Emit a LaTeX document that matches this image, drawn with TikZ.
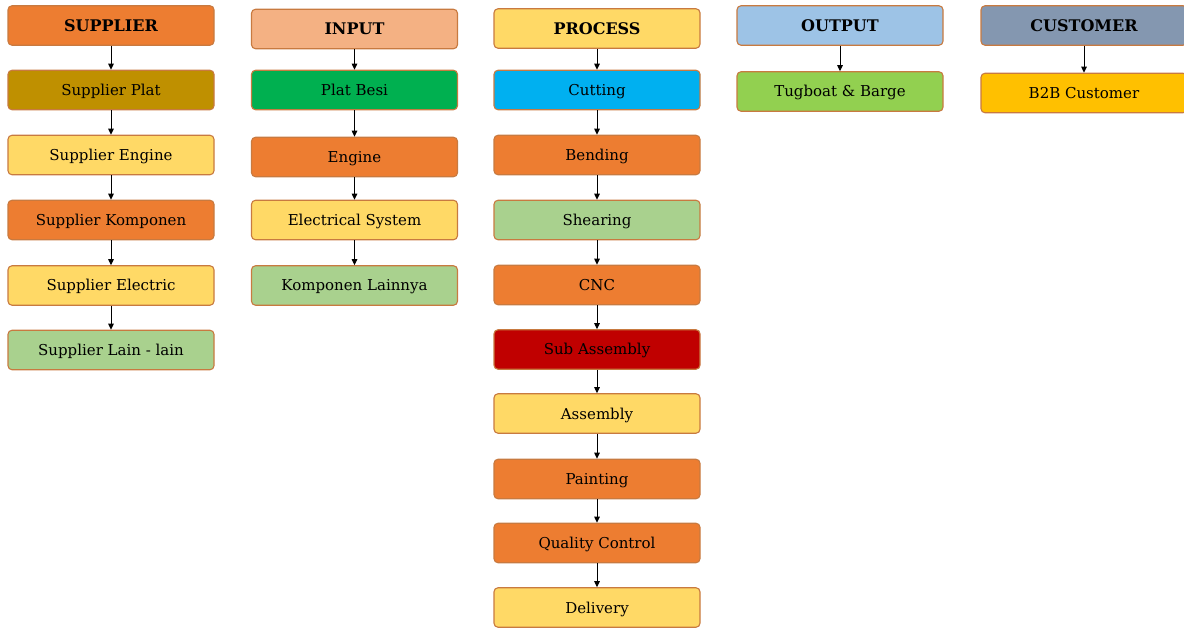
\documentclass[tikz,border=0pt]{standalone}
\usepackage{fontspec}
\setmainfont{DejaVu Serif}
\usetikzlibrary{arrows.meta}
\definecolor{cOrange}{HTML}{ED7D31}
\definecolor{cGoldD}{HTML}{BF9000}
\definecolor{cGoldL}{HTML}{FFD966}
\definecolor{cGreenL}{HTML}{A9D18E}
\definecolor{cOrangeL}{HTML}{F4B183}
\definecolor{cGreen}{HTML}{00B050}
\definecolor{cCyan}{HTML}{00B0F0}
\definecolor{cRed}{HTML}{C00000}
\definecolor{cBlueL}{HTML}{9DC3E6}
\definecolor{cLime}{HTML}{92D050}
\definecolor{cSlate}{HTML}{8497B0}
\definecolor{cAmber}{HTML}{FFC000}
\definecolor{cBorder}{RGB}{200,122,64}
\tikzset{
  box/.style={draw=cBorder, line width=1.1pt, rounded corners=4pt,
    minimum width=206pt, minimum height=39.5pt, inner sep=0pt,
    text height=11pt, text depth=0pt,
    font=\fontsize{15}{17}\selectfont, text=black},
  head/.style={box, text height=11.5pt, font=\fontsize{16}{18}\selectfont\bfseries},
  arr/.style={-{Triangle[length=6pt,width=5.5pt]}, line width=1pt, black}
}
\begin{document}
\begin{tikzpicture}[x=1pt,y=-1pt]
\useasboundingbox (0,0) rectangle (1184,628);
% SUPPLIER column
\node[head, fill=cOrange] (s0) at (111,25.5) {SUPPLIER};
\node[box, fill=cGoldD] (s1) at (111,90) {Supplier Plat};
\node[box, fill=cGoldL] (s2) at (111,155) {Supplier Engine};
\node[box, fill=cOrange] (s3) at (111,220) {Supplier Komponen};
\node[box, fill=cGoldL] (s4) at (111,285.5) {Supplier Electric};
\node[box, fill=cGreenL] (s5) at (111,350) {Supplier Lain - lain};
% INPUT column
\node[head, fill=cOrangeL] (i0) at (354.5,29) {INPUT};
\node[box, fill=cGreen] (i1) at (354.5,90) {Plat Besi};
\node[box, fill=cOrange] (i2) at (354.5,157) {Engine};
\node[box, fill=cGoldL] (i3) at (354.5,220) {Electrical System};
\node[box, fill=cGreenL] (i4) at (354.5,285.5) {Komponen Lainnya};
% PROCESS column
\node[head, fill=cGoldL] (p0) at (597,28.5) {PROCESS};
\node[box, fill=cCyan] (p1) at (597,90) {Cutting};
\node[box, fill=cOrange] (p2) at (597,155) {Bending};
\node[box, fill=cGreenL] (p3) at (597,220) {Shearing};
\node[box, fill=cOrange] (p4) at (597,285) {CNC};
\node[box, fill=cRed] (p5) at (597,349.5) {Sub Assembly};
\node[box, fill=cGoldL] (p6) at (597,413.5) {Assembly};
\node[box, fill=cOrange] (p7) at (597,479) {Painting};
\node[box, fill=cOrange] (p8) at (597,543) {Quality Control};
\node[box, fill=cGoldL] (p9) at (597,607.5) {Delivery};
% OUTPUT column
\node[head, fill=cBlueL] (o0) at (840,25.5) {OUTPUT};
\node[box, fill=cLime] (o1) at (840,91.5) {Tugboat \& Barge};
% CUSTOMER column
\node[head, fill=cSlate] (c0) at (1084,25.5) {CUSTOMER};
\node[box, fill=cAmber] (c1) at (1084,93) {B2B Customer};
% arrows
\foreach \a/\b in {s0/s1,s1/s2,s2/s3,s3/s4,s4/s5,
                   i0/i1,i1/i2,i2/i3,i3/i4,
                   p0/p1,p1/p2,p2/p3,p3/p4,p4/p5,p5/p6,p6/p7,p7/p8,p8/p9,
                   o0/o1,c0/c1}
  \draw[arr] (\a.south) -- (\b.north);
\end{tikzpicture}
\end{document}
